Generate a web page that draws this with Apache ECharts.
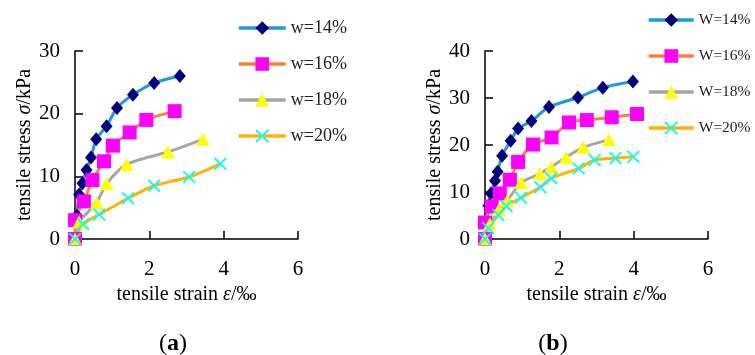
<!DOCTYPE html>
<html>
<head>
<meta charset="utf-8">
<script src="https://cdn.jsdelivr.net/npm/echarts@6/dist/echarts.min.js"></script>
<style>html,body{margin:0;padding:0;background:#fff}#c{width:755px;height:355px}</style>
</head>
<body>
<div id="c"></div>
<script>
// ---- data ----
var xTicks = [0, 2, 4, 6];
var namesA = ['w=14%', 'w=16%', 'w=18%', 'w=20%'];
var namesB = ['W=14%', 'W=16%', 'W=18%', 'W=20%'];

var a14 = [[0,0],[0.05,3.7],[0.11,7.1],[0.2,8.9],[0.31,11.0],[0.43,13.0],[0.57,15.9],[0.85,18.0],[1.13,20.9],[1.56,23.0],[2.13,24.9],[2.82,26.0]];
var a16 = [[0,0],[0,3.0],[0.24,6.0],[0.47,9.4],[0.78,12.4],[1.02,14.9],[1.47,17.0],[1.92,19.0],[2.68,20.4]];
var a18 = [[0,0],[0.11,2.7],[0.58,5.8],[0.85,8.8],[1.39,11.9],[2.5,13.9],[3.44,15.9]];
var a20 = [[0,0],[0.22,2.4],[0.65,3.9],[1.43,6.5],[2.13,8.5],[3.07,9.9],[3.91,12.0]];

var b14 = [[0,0],[0.09,7.1],[0.16,9.7],[0.27,12.4],[0.34,14.3],[0.46,17.7],[0.69,20.9],[0.89,23.5],[1.25,25.1],[1.72,28.1],[2.5,30.1],[3.17,32.2],[3.98,33.5]];
var b16 = [[0,0],[0,3.5],[0.18,6.9],[0.40,9.7],[0.67,12.6],[0.89,16.4],[1.29,20.1],[1.79,21.6],[2.26,24.8],[2.74,25.3],[3.41,25.9],[4.09,26.6]];
var b18 = [[0,0],[0.13,3.2],[0.37,6.2],[0.6,8.2],[0.97,12.0],[1.48,13.9],[1.78,15.3],[2.18,17.4],[2.64,19.5],[3.33,21.1]];
var b20 = [[0,0],[0.09,2.3],[0.36,5.1],[0.58,7.0],[0.97,8.8],[1.49,11.0],[1.78,12.9],[2.52,15.0],[2.95,16.8],[3.51,17.2],[3.99,17.5]];

// ---- styles ----
var FONT = '"Liberation Serif", "Times New Roman", serif';
var crossPath = 'path://M0,1 L1,0 L5,4 L9,0 L10,1 L6,5 L10,9 L9,10 L5,6 L1,10 L0,9 L4,5 Z';
var styles = [
  {line: '#1e9bd7', mark: '#00007f', symbol: 'diamond', size: [12, 14]},
  {line: '#f7823b', mark: '#ff00ff', symbol: 'rect', size: [14, 14]},
  {line: '#a6a6a6', mark: '#ffff00', symbol: 'triangle', size: [14, 13]},
  {line: '#ffb400', mark: '#00ffff', symbol: crossPath, size: [13, 13]}
];

function mkSeries(name, data, i, gi) {
  var s = styles[i];
  return {
    name: name, type: 'line', xAxisIndex: gi, yAxisIndex: gi,
    data: data, smooth: 0.25, clip: false,
    symbol: s.symbol, symbolSize: s.size, showAllSymbol: true,
    lineStyle: {color: s.line, width: 3},
    itemStyle: {color: s.mark, borderWidth: 0},
    emphasis: {disabled: true}, animation: false
  };
}

function xAx(gi) {
  return {
    type: 'value', gridIndex: gi, min: 0, max: 6, interval: 2,
    axisLine: {show: true, onZero: false, lineStyle: {color: '#000', width: 1.5}},
    axisTick: {show: true, inside: true, length: 8, lineStyle: {color: '#000', width: 1.5}},
    splitLine: {show: false},
    axisLabel: {fontFamily: FONT, fontSize: 21, color: '#000', margin: 20},
    name: 'tensile strain {i|ε}/‰', nameLocation: 'middle', nameGap: 41,
    nameTextStyle: {fontFamily: FONT, fontSize: 20, color: '#000',
      rich: {i: {fontFamily: FONT, fontSize: 20, fontStyle: 'italic', color: '#000'}}}
  };
}
function yAx(gi, max) {
  return {
    type: 'value', gridIndex: gi, min: 0, max: max, interval: 10,
    axisLine: {show: true, onZero: false, lineStyle: {color: '#000', width: 1.5}},
    axisTick: {show: true, inside: true, length: 8, lineStyle: {color: '#000', width: 1.5}},
    splitLine: {show: false},
    axisLabel: {fontFamily: FONT, fontSize: 21, color: '#000', margin: 15},
    name: 'tensile stress {i|σ}/kPa', nameLocation: 'middle', nameGap: 40, nameRotate: 90,
    nameTextStyle: {fontFamily: FONT, fontSize: 20, color: '#000',
      rich: {i: {fontFamily: FONT, fontSize: 20, fontStyle: 'italic', color: '#000'}}}
  };
}

var legends = [];
var rowsA = [28, 64, 100, 136];
var rowsB = [20, 56, 92, 128];
function mkLegend(n, i, left, top, fs, w) {
  var s = styles[i];
  return {data: [{name: n}], left: left, top: top, padding: 0, itemWidth: w, itemHeight: 17,
    lineStyle: {width: 3.5, color: s.line},
    textStyle: {fontFamily: FONT, fontSize: fs, color: '#222', lineHeight: 18}, selectedMode: false};
}
namesA.forEach(function (n, i) { legends.push(mkLegend(n, i, 237, rowsA[i] - 9, 18, 47)); });
namesB.forEach(function (n, i) { legends.push(mkLegend(n, i, 647, rowsB[i] - 9, 15.5, 45)); });

var series = [];
[a14, a16, a18, a20].forEach(function (d, i) { series.push(mkSeries(namesA[i], d, i, 0)); });
[b14, b16, b18, b20].forEach(function (d, i) { series.push(mkSeries(namesB[i], d, i, 1)); });

function subLabel(letter, cx) {
  return {type: 'text', x: cx, y: 344, style: {
    text: '{n|(}{b|' + letter + '}{n|)}', align: 'center', verticalAlign: 'middle',
    rich: {
      n: {fontFamily: FONT, fontSize: 24, color: '#000'},
      b: {fontFamily: FONT, fontSize: 24, fontWeight: 'bold', color: '#000'}
    }}};
}

var chart = echarts.init(document.getElementById('c'), null, {renderer: 'canvas'});
chart.setOption({
  animation: false,
  backgroundColor: '#fff',
  grid: [
    {left: 75, right: 457, top: 51, bottom: 116, containLabel: false},
    {left: 485, right: 47, top: 51, bottom: 116, containLabel: false}
  ],
  xAxis: [xAx(0), xAx(1)],
  yAxis: [yAx(0, 30), yAx(1, 40)],
  legend: legends,
  series: series,
  graphic: [subLabel('a', 173), subLabel('b', 553)]
});
</script>
</body>
</html>
